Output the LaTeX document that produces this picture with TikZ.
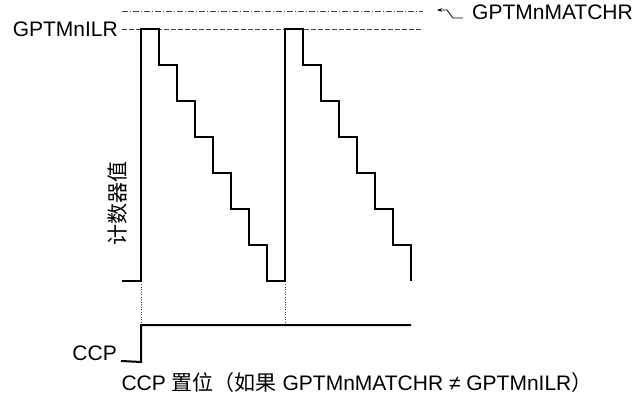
\documentclass[tikz,border=0pt]{standalone}
\usepackage{fontspec}
\setmainfont{Liberation Sans}
\newfontfamily\cjk{Noto Sans CJK SC}
\usetikzlibrary{arrows.meta}
\begin{document}
\begin{tikzpicture}[x=1pt,y=-1pt,
  font=\fontsize{21}{25}\selectfont,
  lbl/.style={inner sep=0pt},
  wave/.style={line width=2pt, line join=miter, line cap=rect},
  guide/.style={line width=0.7pt, black!75},
  dashline/.style={guide, dash pattern=on 5pt off 2pt},
  dashdotline/.style={guide, dash pattern=on 6pt off 2pt on 1pt off 2pt},
  dotline/.style={guide, dash pattern=on 1pt off 1.5pt},
  pointer/.style={line width=0.8pt, -{Stealth[length=5pt,width=3.5pt]}}]
\useasboundingbox (0,0) rectangle (639,398);
% labels
\node[lbl, anchor=east] (ilr) at (118,29) {GPTMnILR};
\node[lbl, anchor=west] (match) at (472,12) {GPTMnMATCHR};
\node[lbl, anchor=east] (ccp) at (117,353) {CCP};
\node[lbl, rotate=90] (cnt) at (118,203) {\cjk 计数器值};
\node[lbl] (note) at (357,383) {CCP {\cjk 置位（如果} GPTMnMATCHR ≠ GPTMnILR{\cjk ）}};
% reference lines
\coordinate (ilrEnd) at (423,29);
\coordinate (matchStart) at (122,11);
\coordinate (matchEnd) at (423,11);
\draw[dashline] ([xshift=4pt]ilr.east) -- (ilrEnd);
\draw[dashdotline] (matchStart) -- (matchEnd);
% pointer to GPTMnMATCHR
\coordinate (p1) at ([shift={(-9,6)}]match.west);
\draw[pointer] (p1) -- ++(-10,0) -- ++(-6,-8) -- ++(-10,0);
% counter waveform
\coordinate (w0) at (123,281);
\draw[wave] (w0) -- (140.5,281) -- (140.5,29)
  -- (158.5,29) -- (158.5,65) -- (176.5,65) -- (176.5,101) -- (194.5,101)
  -- (194.5,137) -- (212.5,137) -- (212.5,173) -- (230.5,173) -- (230.5,209)
  -- (248.5,209) -- (248.5,245) -- (266.5,245) -- (266.5,281) -- (284.5,281)
  -- (284.5,29) -- (302.5,29) -- (302.5,65) -- (320.5,65) -- (320.5,101)
  -- (338.5,101) -- (338.5,137) -- (356.5,137) -- (356.5,173) -- (374.5,173)
  -- (374.5,209) -- (392.5,209) -- (392.5,245) -- (410.5,245) -- (410.5,280);
% CCP waveform
\coordinate (c0) at ([xshift=5pt,yshift=-8pt]ccp.east);
\coordinate (cRise) at (141,325);
\draw[wave] (c0) -- (141,362) -- (cRise) -- (410,325);
% dotted links
\coordinate (d1a) at (141,284);
\coordinate (d2a) at (285,284);
\coordinate (d2b) at (285,324);
\draw[dotline] (d1a) -- (cRise);
\draw[dotline] (d2a) -- (d2b);
\end{tikzpicture}
\end{document}
